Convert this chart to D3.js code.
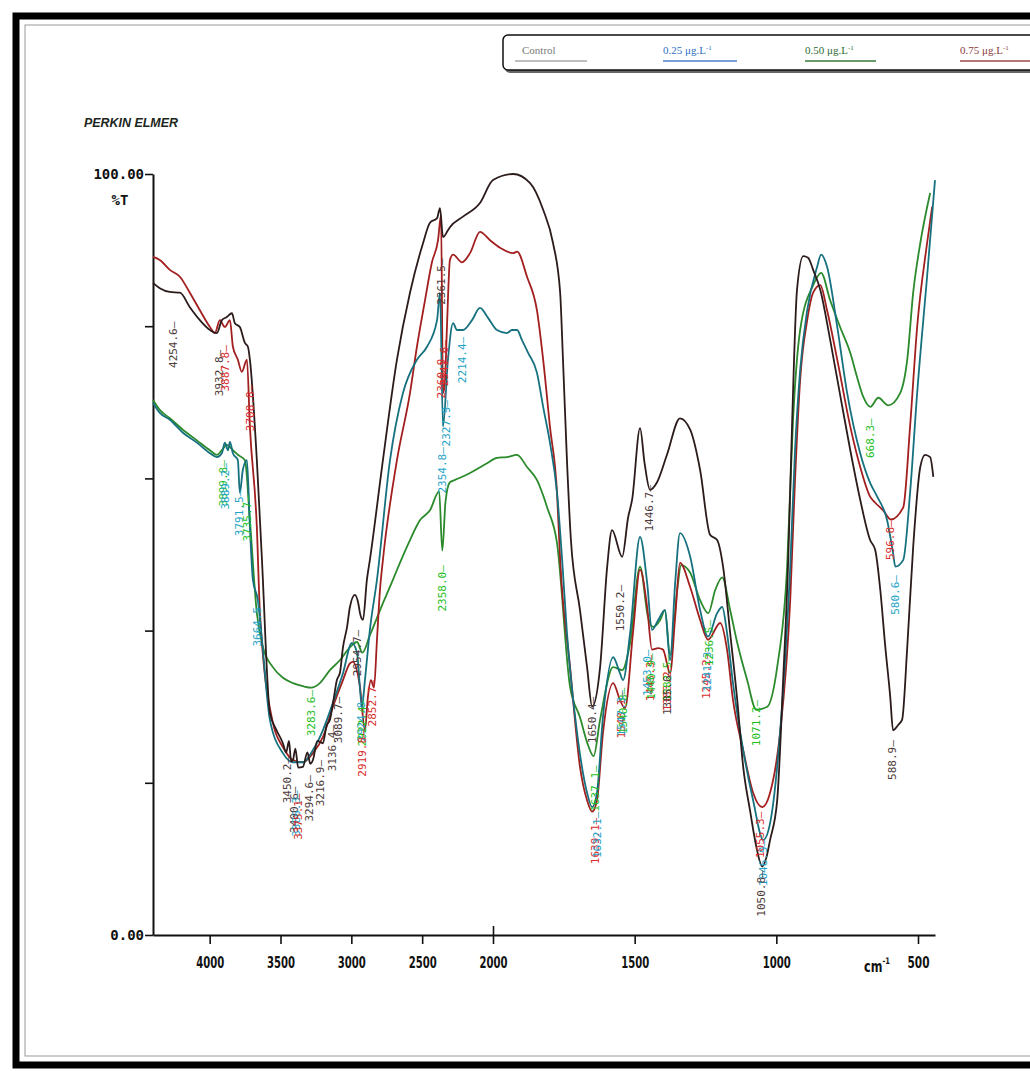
<!DOCTYPE html>
<html><head><meta charset="utf-8">
<script src="https://cdn.jsdelivr.net/npm/d3@7"></script>
<style>body{margin:0;background:#fff}svg{display:block}</style>
</head><body>
<svg id="chart" width="1030" height="1071"></svg>
<script>
// FTIR transmittance spectra: [wavenumber cm-1, %T]
const control = [[4400,85.7],[4352,85.0],[4281,84.5],[4210,84.4],[4140,82.5],[4069,80.8],[3998,79.5],[3949,79.1],[3914,80.8],[3879,81.2],[3843,81.7],[3822,80.4],[3787,79.9],[3751,77.8],[3730,77.3],[3716,75.6],[3667,62.4],[3631,49.3],[3575,29.2],[3530,27.0],[3483,25.2],[3460,24.0],[3440,25.5],[3425,22.8],[3412,23.0],[3395,24.5],[3375,22.0],[3342,22.1],[3310,24.0],[3290,22.5],[3271,23.0],[3240,25.5],[3201,25.2],[3175,27.5],[3151,28.3],[3125,31.0],[3102,33.5],[3080,34.5],[3059,37.8],[3030,40.5],[3010,43.1],[2975,44.7],[2950,43.5],[2939,42.3],[2918,41.4],[2890,46.7],[2869,49.3],[2777,62.4],[2678,75.6],[2586,84.4],[2494,90.9],[2445,93.6],[2395,94.2],[2374,95.5],[2353,91.7],[2318,92.6],[2304,93.0],[2212,94.4],[2092,96.2],[2000,99.2],[1929,100.0],[1869,98.8],[1823,95.3],[1788,90.9],[1763,84.4],[1753,75.6],[1739,62.4],[1725,51.9],[1693,42.7],[1668,35.2],[1650,30.0],[1622,35.2],[1597,48.4],[1580,53.2],[1544,49.7],[1523,54.9],[1509,57.2],[1481,66.6],[1465,62.0],[1446,58.5],[1421,59.5],[1386,63.1],[1340,67.9],[1304,66.4],[1269,61.1],[1234,52.6],[1209,51.9],[1188,48.4],[1163,39.7],[1138,30.9],[1117,22.1],[1093,16.4],[1070,11.5],[1050,9.0],[1035,10.2],[1022,12.5],[997,17.7],[976,33.5],[958,49.3],[944,67.7],[927,84.8],[905,89.2],[888,89.0],[870,87.4],[845,84.8],[810,78.2],[775,71.0],[739,63.7],[704,57.2],[669,51.9],[651,50.6],[633,45.3],[616,38.1],[598,31.3],[588,26.9],[570,27.6],[556,28.3],[538,37.8],[517,51.0],[492,61.5],[475,63.1],[457,62.8],[446,60.2]];

const dose025 = [[4400,69.9],[4352,68.6],[4281,67.7],[4189,66.0],[4090,64.7],[3998,63.3],[3949,62.8],[3914,63.3],[3893,64.7],[3871,63.7],[3857,64.8],[3836,63.3],[3801,62.4],[3787,58.1],[3766,61.1],[3737,62.4],[3716,53.6],[3695,46.7],[3660,44.0],[3631,38.8],[3575,28.3],[3483,23.9],[3412,22.7],[3342,22.7],[3271,24.3],[3201,26.9],[3130,30.5],[3059,34.4],[2996,38.4],[2960,37.1],[2925,30.0],[2904,33.5],[2869,40.1],[2819,46.7],[2727,62.4],[2636,71.2],[2537,75.6],[2466,77.3],[2395,80.8],[2374,84.4],[2353,66.8],[2318,75.6],[2282,80.4],[2254,79.5],[2212,79.5],[2148,80.8],[2092,82.4],[2035,81.1],[1986,79.5],[1951,79.1],[1933,79.5],[1915,79.5],[1898,78.2],[1876,76.5],[1845,73.9],[1823,69.4],[1799,64.7],[1774,58.1],[1756,49.3],[1739,39.7],[1703,26.5],[1668,18.7],[1650,16.8],[1633,18.7],[1612,28.6],[1576,36.5],[1552,34.4],[1541,33.5],[1516,39.7],[1481,52.3],[1456,46.3],[1439,40.1],[1417,41.4],[1393,42.7],[1375,36.1],[1357,46.3],[1340,52.8],[1304,49.7],[1269,42.7],[1241,39.2],[1209,42.3],[1191,43.1],[1174,39.7],[1153,33.1],[1117,24.3],[1082,17.7],[1046,12.5],[1022,14.7],[987,26.5],[951,48.4],[934,63.7],[916,74.2],[891,82.1],[856,87.8],[842,89.4],[821,87.8],[785,79.9],[750,71.2],[704,63.3],[669,59.4],[644,57.6],[609,54.5],[588,50.2],[580,48.4],[552,49.3],[528,58.1],[503,71.2],[468,86.5],[440,99.2]];

const dose050 = [[4400,70.3],[4352,69.0],[4281,67.9],[4189,66.4],[4090,65.0],[3998,63.7],[3949,63.1],[3914,63.7],[3879,64.4],[3836,63.7],[3801,63.1],[3751,62.4],[3716,54.5],[3667,42.3],[3624,37.8],[3554,35.2],[3483,33.8],[3412,33.1],[3342,32.7],[3283,32.5],[3222,33.1],[3151,34.8],[3081,36.1],[3010,37.8],[2960,38.5],[2922,37.1],[2869,39.4],[2777,43.6],[2706,46.7],[2657,48.9],[2586,51.9],[2516,54.5],[2445,55.8],[2380,58.3],[2358,50.5],[2335,57.0],[2304,59.5],[2268,59.8],[2162,60.7],[2042,62.0],[1986,62.7],[1951,62.8],[1915,63.1],[1880,61.5],[1845,59.8],[1809,56.2],[1774,51.5],[1728,32.6],[1693,28.6],[1665,25.0],[1645,23.5],[1622,28.3],[1576,35.2],[1544,34.8],[1516,38.4],[1481,48.4],[1453,41.8],[1435,40.5],[1410,41.4],[1393,42.7],[1375,36.8],[1350,45.3],[1336,48.6],[1304,47.6],[1269,44.0],[1240,42.3],[1216,45.3],[1191,47.0],[1163,42.7],[1138,38.4],[1103,33.5],[1071,29.6],[1032,30.0],[997,35.2],[962,48.4],[941,67.7],[916,79.5],[870,85.4],[842,87.0],[810,83.4],[775,79.9],[739,76.5],[715,73.3],[693,70.7],[668,69.4],[640,70.6],[605,69.6],[563,71.2],[538,75.6],[517,84.4],[492,90.9],[457,97.5]];

const dose075 = [[4400,89.1],[4352,88.7],[4281,87.4],[4210,86.5],[4140,84.4],[4069,82.1],[3998,79.9],[3963,79.1],[3928,80.8],[3893,79.9],[3857,80.8],[3836,77.3],[3801,75.6],[3773,74.0],[3737,75.6],[3716,66.8],[3667,53.6],[3645,42.3],[3554,27.9],[3483,24.7],[3412,23.0],[3342,22.7],[3271,23.9],[3201,26.0],[3130,30.0],[3059,33.5],[3010,35.7],[2989,35.9],[2939,32.6],[2904,26.9],[2883,31.3],[2862,33.5],[2840,32.5],[2819,38.8],[2798,45.3],[2777,49.3],[2678,62.4],[2586,71.2],[2537,77.3],[2480,83.4],[2431,88.4],[2388,91.3],[2367,94.6],[2353,71.2],[2339,72.9],[2325,79.9],[2304,88.7],[2282,89.4],[2219,88.4],[2162,89.6],[2092,92.4],[2021,91.3],[1975,90.3],[1929,89.6],[1915,89.8],[1880,86.5],[1845,82.1],[1823,75.6],[1799,66.8],[1774,58.1],[1763,49.3],[1728,35.2],[1693,22.1],[1668,17.7],[1650,16.2],[1633,17.7],[1612,26.5],[1576,33.1],[1552,30.9],[1534,29.8],[1506,39.7],[1481,48.0],[1456,43.1],[1439,37.5],[1417,37.7],[1400,37.5],[1375,34.4],[1357,41.8],[1340,48.9],[1304,45.7],[1269,41.4],[1241,38.8],[1198,41.0],[1174,37.5],[1153,30.9],[1117,24.3],[1082,18.7],[1050,16.8],[1022,18.7],[987,26.5],[951,44.0],[934,59.8],[916,72.9],[891,80.8],[870,84.4],[845,85.4],[821,82.1],[785,75.6],[739,66.8],[704,61.5],[669,57.6],[651,56.8],[623,55.8],[596,54.6],[552,56.2],[528,66.8],[503,79.9],[468,90.9],[450,95.7]];

// Series names and legend text
const seriesKeys = ["control","c025","c050","c075"];
const legendLabels = ["Control","0.25 μg.L","0.50 μg.L","0.75 μg.L"];
const xTicks = [4000,3500,3000,2500,2000,1500,1000,500];
const yTicks = [0,20,40,60,80,100];

// Peak annotations: [wavenumber text, series, %T where the label's dash ends]
const peakLabels = [
 ["4254.6","control",80.6],["3932.8","control",76.9],["3887.8","c075",77.5],["3708.8","c075",72.3],
 ["3899.8","c050",62.4],["3889.2","c025",62.0],["3791.5","c025",58.5],["3735.7","c050",57.8],
 ["3664.5","c025",44.0],["3450.2","control",23.4],["3400.6","control",19.5],["3386.3","c025",19.0],
 ["3375.1","c075",18.6],["3294.6","control",21.0],["3283.6","c050",32.2],["3216.9","control",23.0],
 ["3136.4","control",27.6],["3089.7","control",31.3],["2954.7","control",40.1],["2924.8","c025",31.5],
 ["2922.4","c050",30.9],["2919.8","c075",26.9],["2852.7","c075",33.5],["2361.5","control",88.9],
 ["2360.9","c075",76.6],["2341.6","c075",78.2],["2354.8","c025",64.1],["2327.9","c025",70.3],
 ["2214.4","c025",78.6],["2358.0","c050",48.6],["1650.4","control",31.3],["1637.1","c050",22.3],
 ["1639.1","c075",15.4],["1632.1","c025",16.2],["1550.2","control",46.0],["1548.1","c075",31.9],
 ["1540.8","c050",32.5],["1547.3","c025",32.2],["1446.7","control",59.1],["1445.3","c075",36.8],
 ["1453.0","c025",37.5],["1440.9","c050",37.0],["1383.2","c075",35.5],["1382.5","c050",36.8],
 ["1385.6","control",35.0],["1245.2","c075",37.1],["1241.3","c025",38.1],["1236.5","c050",41.4],
 ["1071.2","c050",30.9],["1055.3","c075",16.2],["1046.9","c025",12.5],["1050.8","control",8.5],
 ["668.3","c050",67.9],["596.8","c075",54.5],["580.6","c025",47.3],["588.9","control",25.6]
];

const lineColor = {control:"#2b1b1b", c025:"#16717f", c050:"#2b8a2b", c075:"#a31f1f"};
const labelColor = {control:"#4d3b3b", c025:"#1fa3c7", c050:"#1fbf1f", c075:"#d92b2b"};
const legendText = ["#7a7a7a","#2f6fbf","#2e6b30","#8b3a3a"];
const legendLine = ["#a8a8a8","#4a7fd0","#3a7a3a","#9a4a4a"];

const svg = d3.select("#chart");
svg.append("rect").attr("width",1030).attr("height",1071).attr("fill","#fff");

// page frame
svg.append("rect").attr("x",16).attr("y",16).attr("width",1040).attr("height",1049)
  .attr("fill","none").attr("stroke","#000").attr("stroke-width",7);
svg.append("rect").attr("x",25).attr("y",25).attr("width",1040).attr("height",1031)
  .attr("fill","none").attr("stroke","#9a9a9a").attr("stroke-width",1);

// legend box
svg.append("rect").attr("x",505).attr("y",37).attr("width",540).attr("height",36).attr("rx",5)
  .attr("fill","#666");
svg.append("rect").attr("x",503).attr("y",35).attr("width",540).attr("height",35).attr("rx",5)
  .attr("fill","#fff").attr("stroke","#111").attr("stroke-width",1.5);
const legendX = [[515,587],[663,737],[805,876],[960,1032]];
legendLabels.forEach((t,i)=>{
  const [a,b] = legendX[i];
  svg.append("line").attr("x1",a).attr("x2",b).attr("y1",61).attr("y2",61)
    .attr("stroke",legendLine[i]).attr("stroke-width",1.3);
  const tx = svg.append("text").attr("x", i===0 ? a+7 : a).attr("y",54)
    .attr("font-family","Liberation Serif, DejaVu Serif, serif").attr("font-size",11)
    .attr("fill",legendText[i]).text(t);
  if(i>0){
    tx.append("tspan").attr("font-size",7).attr("dy",-4).text("-1");
  }
});

// instrument header
svg.append("text").attr("x",84).attr("y",127).attr("font-family","Liberation Sans, Arial, sans-serif")
  .attr("font-size",12).attr("font-weight","bold").attr("font-style","italic")
  .attr("textLength",94).attr("lengthAdjust","spacingAndGlyphs").attr("fill","#1c261c").text("PERKIN ELMER");

// scales: the wavenumber axis is compressed 2:1 above 2000 cm-1
const x = d3.scaleLinear().domain([4400,2000,440]).range([153,493,935]);
const y = d3.scaleLinear().domain([0,100]).range([935,174]);

const monoFont = "DejaVu Sans Mono, Liberation Mono, monospace";

// y axis
const yAxis = d3.axisLeft(y).tickValues(yTicks).tickSize(8).tickSizeOuter(0).tickPadding(1)
  .tickFormat(d => d===100 ? "100.00" : d===0 ? "0.00" : "");
const gy = svg.append("g").attr("transform","translate(153,0)").call(yAxis);
gy.select(".domain").attr("stroke","#111").attr("stroke-width",2);
gy.selectAll(".tick line").attr("stroke","#111").attr("stroke-width",1.6);
gy.selectAll(".tick text").attr("font-family",monoFont).attr("font-weight","bold")
  .attr("font-size",14).attr("fill","#111");
svg.append("text").attr("x",120).attr("y",205).attr("text-anchor","middle")
  .attr("font-family",monoFont).attr("font-weight","bold").attr("font-size",14).attr("fill","#111").text("%T");

// x axis
const xAxis = d3.axisBottom(x).tickValues(xTicks).tickSize(9).tickSizeOuter(0).tickPadding(13)
  .tickFormat(d3.format("d"));
const gx = svg.append("g").attr("transform","translate(0,935)").call(xAxis);
gx.select(".domain").attr("stroke","#111").attr("stroke-width",2);
gx.selectAll(".tick line").attr("stroke","#111").attr("stroke-width",1.6)
  .attr("y1", d => d===2000 ? -9 : 0);
gx.selectAll(".tick text").attr("font-family","DejaVu Sans, sans-serif").attr("font-weight","bold")
  .attr("font-size",15).attr("fill","#111")
  .attr("textLength", d => d===500 ? 22 : 28).attr("lengthAdjust","spacingAndGlyphs");
// unit label: cm-1, narrowed to the plotter's condensed lettering
const unit = svg.append("text").attr("transform","translate(864,972) scale(0.75,1)")
  .attr("font-family","DejaVu Sans, sans-serif").attr("font-weight","bold")
  .attr("font-size",15).attr("fill","#111").text("cm");
unit.append("tspan").attr("font-size",9).attr("dy",-8).text("-1");

// spectra
const line = d3.line().x(d=>x(d[0])).y(d=>y(d[1])).curve(d3.curveMonotoneX);
const seriesData = {control:control, c025:dose025, c050:dose050, c075:dose075};
["c050","c075","c025","control"].forEach(k=>{
  svg.append("path").datum(seriesData[k]).attr("d",line).attr("fill","none")
    .attr("stroke",lineColor[k]).attr("stroke-width",1.8).attr("stroke-linejoin","round");
});

// peak labels, rotated, dash pointing up to the band
svg.append("g").selectAll("text").data(peakLabels).join("text")
  .attr("transform", d => `translate(${x(+d[0])},${y(d[2])}) rotate(-90)`)
  .attr("text-anchor","end").attr("dominant-baseline","central")
  .attr("font-family",monoFont).attr("font-size",11)
  .attr("fill", d => labelColor[d[1]])
  .text(d => d[0] + "—");
</script>
</body></html>
